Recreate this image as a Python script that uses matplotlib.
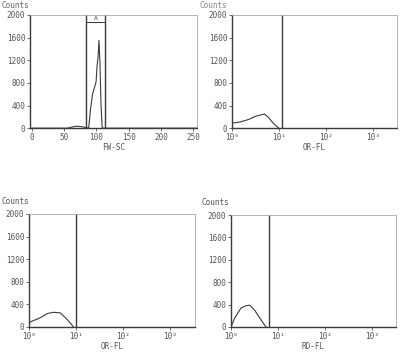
import matplotlib.pyplot as plt

# histogram data
fsc_x = [0, 55, 62, 70, 78, 84, 88, 91, 94, 97, 99.5, 101, 102.5, 104, 105.5, 107, 109, 115, 256]
fsc_y = [0, 0, 20, 35, 25, 10, 0, 350, 600, 720, 820, 1100, 1250, 1550, 1150, 450, 0, 0, 0]

or1_x = [1, 1.5, 2.2, 3.2, 4.9, 6.0, 7.2, 8.5, 10]
or1_y = [88, 110, 150, 210, 250, 190, 110, 50, 0]

or2_x = [1, 1.3, 1.7, 2.5, 3.3, 4.6, 6.0, 7.5, 8.8]
or2_y = [80, 120, 160, 240, 260, 250, 160, 70, 0]

rd_x = [1, 1.2, 1.64, 2.1, 2.5, 3.2, 4.1, 5.6]
rd_y = [0, 160, 340, 380, 390, 300, 160, 0]

gates = {"fsc": (84, 113), "or1": 11.7, "or2": 10.0, "rd": 6.5}
count_ticks = [0, 400, 800, 1200, 1600, 2000]
lin_ticks = [0, 50, 100, 150, 200, 250]
log_ticks = [1, 10, 100, 1000]
log_labels = ["10\u2070", "10\u00b9", "10\u00b2", "10\u00b3"]

plt.rcParams["font.family"] = ["DejaVu Sans Mono"]
plt.rcParams["font.size"] = 5.5

fig = plt.figure(figsize=(4.0, 3.56), dpi=100)
ink = "#3a3a3a"


def setup(ax, xlabel):
    ax.set_ylim(0, 2000)
    ax.set_yticks(count_ticks)
    ax.set_yticklabels([str(t) for t in count_ticks], color="#555555")
    ax.tick_params(direction="out", length=2, width=0.6, colors="#555555", pad=1.5)
    ax.set_xlabel(xlabel, color="#555555", labelpad=1)
    for s in ["left", "bottom"]:
        ax.spines[s].set_color(ink)
        ax.spines[s].set_linewidth(1.0)
    for s in ["top", "right"]:
        ax.spines[s].set_color("#aaaaaa")
        ax.spines[s].set_linewidth(0.6)


def log_axis(ax):
    ax.set_xscale("log")
    ax.set_xlim(1, 10 ** 3.52)
    ax.set_xticks(log_ticks)
    ax.set_xticklabels(log_labels)
    ax.minorticks_off()


ax1 = fig.add_axes([0.075, 0.640, 0.4175, 0.318])
ax1.plot(fsc_x, fsc_y, color=ink, lw=0.8)
ax1.set_xlim(-3, 256)
ax1.set_xticks(lin_ticks)
setup(ax1, "FW-SC")
for g in gates["fsc"]:
    ax1.axvline(g, color=ink, lw=1.0)
ax1.plot(gates["fsc"], [1870, 1870], color=ink, lw=0.7)
ax1.text(sum(gates["fsc"]) / 2, 1900, "A", ha="center", va="bottom", fontsize=4.5, color=ink)

ax2 = fig.add_axes([0.58, 0.640, 0.4125, 0.318])
ax2.plot(or1_x, or1_y, color=ink, lw=0.8)
log_axis(ax2)
setup(ax2, "OR-FL")
ax2.axvline(gates["or1"], color=ink, lw=1.0)

ax3 = fig.add_axes([0.0725, 0.0815, 0.415, 0.3175])
ax3.plot(or2_x, or2_y, color=ink, lw=0.8)
log_axis(ax3)
setup(ax3, "OR-FL")
ax3.axvline(gates["or2"], color=ink, lw=1.0)

ax4 = fig.add_axes([0.5775, 0.0815, 0.4125, 0.3145])
ax4.plot(rd_x, rd_y, color=ink, lw=0.8)
log_axis(ax4)
setup(ax4, "RD-FL")
ax4.axvline(gates["rd"], color=ink, lw=1.0)

fig.text(0.005, 0.985, "Counts", color="#666666", va="center")
fig.text(0.50, 0.998, "Counts", color="#888888", va="top")
fig.text(0.005, 0.435, "Counts", color="#555555", va="center")
fig.text(0.505, 0.432, "Counts", color="#555555", va="center")

fig.savefig("out.png", dpi=100)
